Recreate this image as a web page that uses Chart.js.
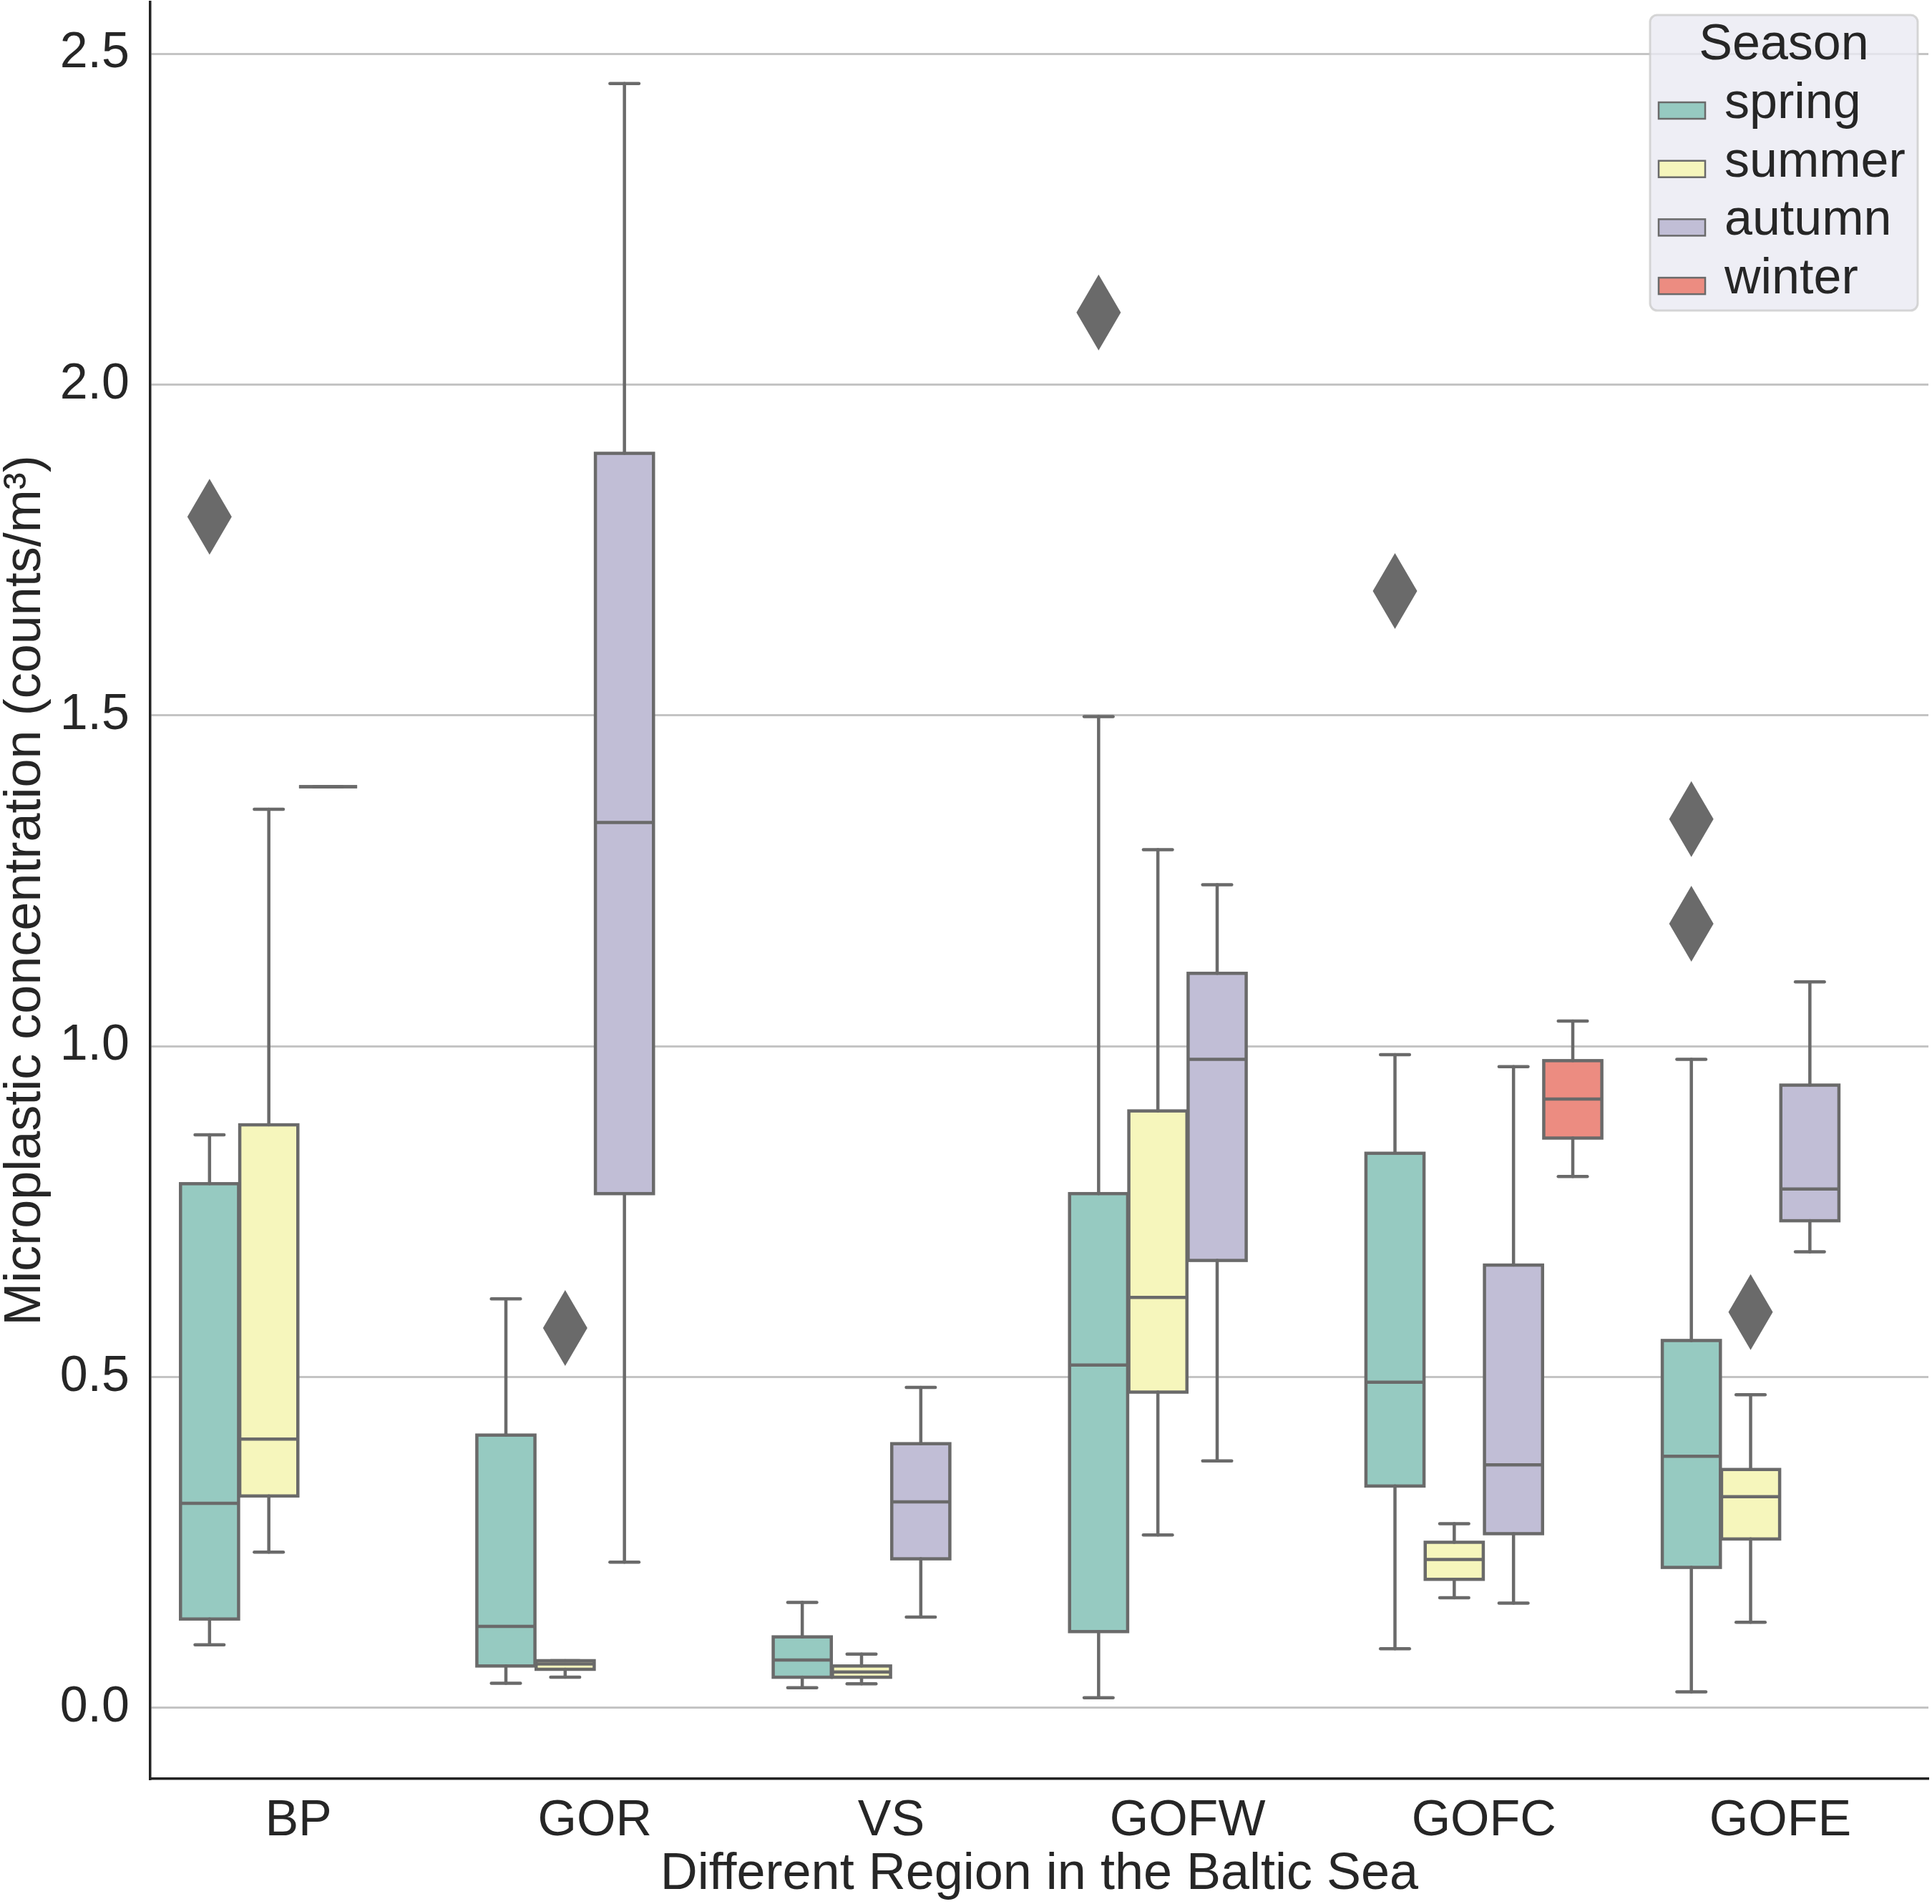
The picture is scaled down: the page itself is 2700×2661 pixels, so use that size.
<!DOCTYPE html>
<html>
<head>
<meta charset="utf-8">
<script src="https://cdn.jsdelivr.net/npm/chart.js@4.4.1/dist/chart.umd.min.js"></script>
<style>
  html, body { margin: 0; padding: 0; background: #ffffff; }
  #wrap { width: 2700px; height: 2661px; position: relative; }
</style>
</head>
<body>
<div id="wrap"><canvas id="c" width="2700" height="2661"></canvas></div>
<script>
// ---------------- DATA ----------------
const categories = ['BP', 'GOR', 'VS', 'GOFW', 'GOFC', 'GOFE'];
const seasons = ['spring', 'summer', 'autumn', 'winter'];
const yTicks = [0.0, 0.5, 1.0, 1.5, 2.0, 2.5];

// each entry: [lower whisker, Q1, median, Q3, upper whisker] per region (null = no data)
const springStats = [
  [0.095, 0.134, 0.309, 0.792, 0.866],
  [0.037, 0.063, 0.123, 0.412, 0.618],
  [0.030, 0.046, 0.072, 0.107, 0.159],
  [0.015, 0.115, 0.518, 0.777, 1.498],
  [0.089, 0.335, 0.492, 0.838, 0.987],
  [0.024, 0.212, 0.380, 0.555, 0.980]
];
const summerStats = [
  [0.235, 0.320, 0.406, 0.881, 1.358],
  [0.046, 0.058, 0.066, 0.071, 0.071],
  [0.036, 0.046, 0.054, 0.063, 0.081],
  [0.261, 0.477, 0.620, 0.902, 1.297],
  [0.166, 0.194, 0.224, 0.250, 0.278],
  [0.129, 0.255, 0.319, 0.360, 0.473]
];
const autumnStats = [
  [1.392, 1.392, 1.392, 1.392, 1.392],
  [0.220, 0.777, 1.338, 1.896, 2.455],
  [0.137, 0.225, 0.311, 0.399, 0.484],
  [0.373, 0.676, 0.980, 1.110, 1.244],
  [0.158, 0.263, 0.367, 0.669, 0.969],
  [0.689, 0.736, 0.784, 0.941, 1.097]
];
const winterStats = [
  null,
  null,
  null,
  null,
  [0.803, 0.861, 0.920, 0.978, 1.038],
  null
];

// outliers per region
const springOutliers = [[1.80], [], [], [2.109], [1.688], [1.343, 1.185]];
const summerOutliers = [[], [0.574], [], [], [], [0.598]];
const autumnOutliers = [[], [], [], [], [], []];
const winterOutliers = [[], [], [], [], [], []];

const seasonColors = ['#96cac1', '#f6f6bc', '#c1bed6', '#ec8c81'];
const allStats = [springStats, summerStats, autumnStats, winterStats];
const allOutliers = [springOutliers, summerOutliers, autumnOutliers, winterOutliers];

const LINE = '#6a6a6a';
const TEXT = '#262626';
const FONT = "'Liberation Sans', Arial, Helvetica, sans-serif";

// ---------------- PLUGINS ----------------
const boxPlugin = {
  id: 'boxWhiskers',
  afterDatasetsDraw(chart) {
    const ctx = chart.ctx;
    const ys = chart.scales.y;
    ctx.save();
    ctx.strokeStyle = LINE;
    ctx.fillStyle = LINE;
    ctx.lineWidth = 4.5;
    const seg = (x1, y1, x2, y2) => {
      ctx.beginPath(); ctx.moveTo(x1, y1); ctx.lineTo(x2, y2); ctx.stroke();
    };
    allStats.forEach((stats, di) => {
      const meta = chart.getDatasetMeta(di);
      stats.forEach((s, i) => {
        if (!s) return;
        const el = meta.data[i];
        const x = el.x, w = el.width, h = w / 2;
        const [mn, q1, md, q3, mx] = s.map(v => ys.getPixelForValue(v));
        ctx.lineCap = 'round';
        seg(x, q3, x, mx);
        seg(x, q1, x, mn);
        seg(x - w / 4, mx, x + w / 4, mx);
        seg(x - w / 4, mn, x + w / 4, mn);
        ctx.lineCap = 'butt';
        ctx.lineJoin = 'miter';
        ctx.strokeRect(x - h, q3, w, q1 - q3);
        seg(x - h, md, x + h, md);
        allOutliers[di][i].forEach(v => {
          const py = ys.getPixelForValue(v);
          ctx.beginPath();
          ctx.moveTo(x, py - 53);
          ctx.lineTo(x + 31, py);
          ctx.lineTo(x, py + 53);
          ctx.lineTo(x - 31, py);
          ctx.closePath();
          ctx.fill();
        });
      });
    });
    ctx.restore();
  }
};

const legendPlugin = {
  id: 'seasonLegend',
  afterDraw(chart) {
    const ctx = chart.ctx;
    ctx.save();
    const x0 = 2306, y0 = 21, w = 374, hgt = 413, r = 10;
    ctx.beginPath();
    ctx.moveTo(x0 + r, y0);
    ctx.arcTo(x0 + w, y0, x0 + w, y0 + hgt, r);
    ctx.arcTo(x0 + w, y0 + hgt, x0, y0 + hgt, r);
    ctx.arcTo(x0, y0 + hgt, x0, y0, r);
    ctx.arcTo(x0, y0, x0 + w, y0, r);
    ctx.closePath();
    ctx.fillStyle = 'rgba(234,234,242,0.8)';
    ctx.fill();
    ctx.strokeStyle = 'rgba(204,204,204,0.8)';
    ctx.lineWidth = 3;
    ctx.stroke();
    ctx.fillStyle = TEXT;
    ctx.font = '70px ' + FONT;
    ctx.textAlign = 'center';
    ctx.textBaseline = 'alphabetic';
    ctx.fillText('Season', 2493, 83);
    ctx.textAlign = 'left';
    seasons.forEach((s, i) => {
      const cy = 154 + i * 81.7;
      ctx.fillStyle = seasonColors[i];
      ctx.fillRect(2318, cy - 11, 65, 23);
      ctx.strokeStyle = LINE;
      ctx.lineWidth = 2.5;
      ctx.strokeRect(2318, cy - 11, 65, 23);
      ctx.fillStyle = TEXT;
      ctx.fillText(s, 2410, cy + 11);
    });
    ctx.restore();
  }
};

// ---------------- CHART ----------------
const datasets = seasons.map((s, di) => ({
  label: s,
  data: allStats[di].map(st => st ? [st[1], st[3]] : null),
  backgroundColor: seasonColors[di],
  borderWidth: 0,
  categoryPercentage: 0.8,
  barPercentage: 0.98
}));

new Chart(document.getElementById('c'), {
  type: 'bar',
  data: { labels: categories, datasets },
  plugins: [boxPlugin, legendPlugin],
  options: {
    responsive: false,
    devicePixelRatio: 1,
    animation: false,
    layout: { autoPadding: false, padding: { left: 0, right: 5, top: 3, bottom: 5 } },
    plugins: { legend: { display: false }, tooltip: { enabled: false } },
    scales: {
      x: {
        grid: { display: false, drawTicks: false },
        border: { display: true, color: '#222222', width: 3.5 },
        ticks: { color: TEXT, font: { family: FONT, size: 70 }, padding: 18 },
        title: {
          display: true, text: 'Different Region in the Baltic Sea', color: TEXT,
          font: { family: FONT, size: 72, lineHeight: 1 }, padding: { top: 0, bottom: 0 }
        },
        afterFit(scale) {
          scale.height = 170;
          scale.paddingLeft = 0; scale.paddingRight = 0;
          scale.paddingTop = 0; scale.paddingBottom = 0;
        }
      },
      y: {
        min: -0.1075, max: 2.578,
        afterBuildTicks(scale) { scale.ticks = yTicks.map(v => ({ value: v })); },
        grid: { display: true, color: '#c4c4c4', lineWidth: 3, drawTicks: false },
        border: { display: true, color: '#222222', width: 3.5 },
        ticks: {
          color: TEXT, font: { family: FONT, size: 70 }, padding: 29,
          callback: v => Number(v).toFixed(1)
        },
        title: {
          display: true, text: 'Microplastic concentration (counts/m³)', color: TEXT,
          font: { family: FONT, size: 72, lineHeight: 1 }, padding: { top: 0, bottom: 0 }
        },
        afterFit(scale) {
          scale.width = 210;
          scale.paddingTop = 0; scale.paddingBottom = 0;
          scale.paddingLeft = 0; scale.paddingRight = 0;
        }
      }
    }
  }
});
</script>
</body>
</html>
